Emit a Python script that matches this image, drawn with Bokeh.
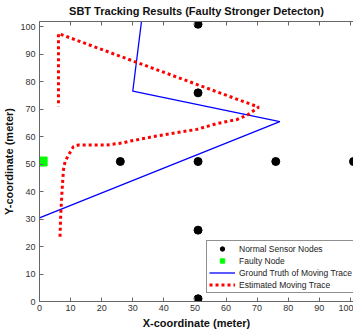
from bokeh.plotting import figure
from bokeh.models import Range1d, LinearAxis, Legend, LegendItem, FixedTicker, Title
from bokeh.embed import file_html
from bokeh.resources import INLINE

# Data
normal_x = [51, 51, 51, 51, 51, 26, 76, 101]
normal_y = [1, 26, 51, 76, 101, 51, 51, 51]
faulty_x = [1]
faulty_y = [51]
truth_x = [0, 77.3, 30, 32.8]
truth_y = [30.5, 65.5, 76.6, 102]
est_x = [6.6, 6.85, 7.2, 7.7, 8.2, 9.3, 10.9, 12.5, 16.8, 21.6, 27, 29, 37.7, 50.6, 57, 63.5, 67, 70.5, 6.1, 6.1]
est_y = [23.6, 32.1, 39.4, 47.9, 50.9, 53.3, 56.4, 57, 57, 57, 57.8, 58.4, 60.3, 62.7, 64.8, 66.3, 68, 70.8, 97.6, 71]
ticks = [0, 10, 20, 30, 40, 50, 60, 70, 80, 90, 100]

FONT = "Liberation Sans"

p = figure(frame_width=314, frame_height=280, output_backend="svg", toolbar_location=None,
           x_range=Range1d(0, 101), y_range=Range1d(0, 102),
           min_border_left=35, min_border_right=0, min_border_top=21, min_border_bottom=31)
p.title = Title(text="SBT Tracking Results (Faulty Stronger Detecton)", align="center",
                vertical_align="top",
                text_font=FONT, text_font_size="11px", text_font_style="bold",
                text_color="#111111", standoff=6, offset=0)
p.grid.visible = False
p.outline_line_color = None
p.background_fill_color = "white"

for ax in (p.xaxis[0], p.yaxis[0]):
    ax.ticker = FixedTicker(ticks=ticks)
    ax.major_tick_in = 4
    ax.major_tick_out = 0
    ax.minor_tick_line_color = None
    ax.axis_line_color = "#666666"
    ax.major_tick_line_color = "#666666"
    ax.major_label_text_font = FONT
    ax.major_label_text_font_size = "9px"
    ax.major_label_text_color = "#333333"
    ax.axis_label_text_font = FONT
    ax.axis_label_text_font_size = "11px"
    ax.axis_label_text_font_style = "bold"
    ax.axis_label_text_color = "#111111"

p.xaxis[0].axis_label = "X-coordinate (meter)"
p.yaxis[0].axis_label = "Y-coordinate (meter)"
p.xaxis[0].major_label_standoff = 3
p.xaxis[0].axis_label_standoff = 3
p.yaxis[0].major_label_standoff = 4
p.yaxis[0].axis_label_standoff = 2

top = LinearAxis(ticker=FixedTicker(ticks=ticks), major_tick_in=4, major_tick_out=0,
                 minor_tick_line_color=None, major_label_standoff=0,
                 major_label_overrides={t: "" for t in ticks},
                 axis_line_color="#666666", major_tick_line_color="#666666")
p.add_layout(top, "above")

r_truth = p.line(truth_x, truth_y, line_color="#0000ff", line_width=1.3)
r_est = p.line(est_x, est_y, line_color="#ff0000", line_width=3, line_dash="3 3")
r_norm = p.scatter(normal_x, normal_y, marker="circle", size=8, fill_color="black", line_color="black")
r_faulty = p.scatter(faulty_x, faulty_y, marker="square", size=9, fill_color="#00ff00", line_color="#00ff00")

legend = Legend(items=[
    LegendItem(label="Normal Sensor Nodes", renderers=[r_norm]),
    LegendItem(label="Faulty Node", renderers=[r_faulty]),
    LegendItem(label="Ground Truth of Moving Trace", renderers=[r_truth]),
    LegendItem(label="Estimated Moving Trace", renderers=[r_est]),
], location=(167, 8), label_text_font=FONT, label_text_font_size="8.5px",
    label_text_color="#222222", glyph_width=26, glyph_height=11, label_height=11,
    spacing=1, padding=2, label_standoff=4, margin=0,
    border_line_color="#222222", border_line_width=1, background_fill_alpha=1)
p.add_layout(legend, "center")

open("out.html", "w").write(file_html(p, INLINE))
